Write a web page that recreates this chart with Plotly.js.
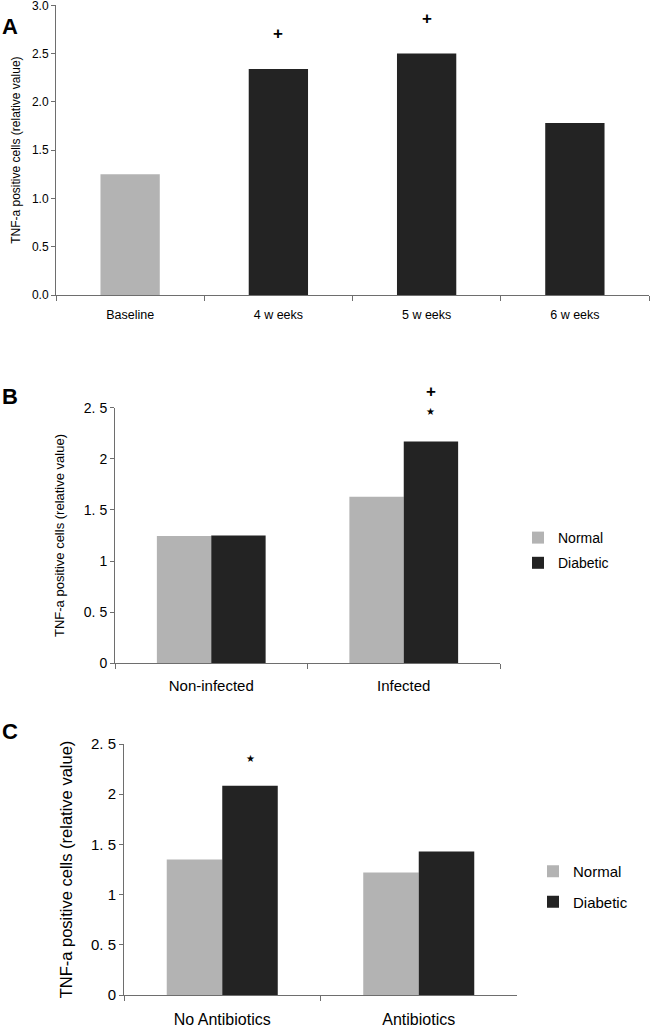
<!DOCTYPE html>
<html>
<head>
<meta charset="utf-8">
<script src="https://cdn.plot.ly/plotly-3.0.1.min.js"></script>
<style>
  body { margin: 0; background: #fff; }
  #chart { width: 650px; height: 1027px; }
</style>
</head>
<body>
<div id="chart"></div>
<script>
// Panel A: time course
const weekCats = ["Baseline", "4 w eeks", "5 w eeks", "6 w eeks"];
const weekVals = [1.25, 2.34, 2.5, 1.78];
const weekColors = ["#b3b3b3", "#232323", "#232323", "#232323"];
const weekMarks = ["", "+", "+", ""];
const weekMarkY = [null, 2.71, 2.86, null];

// Panel B: infection
const infCats = ["Non-infected", "Infected"];
const infNormal = [1.245, 1.63];
const infDiabetic = [1.25, 2.17];
const infPlusY = 2.663;
const infStarY = 2.46;

// Panel C: antibiotics
const abCats = ["No Antibiotics", "Antibiotics"];
const abNormal = [1.35, 1.22];
const abDiabetic = [2.085, 1.43];
const abStarY = 2.357;

const halfTicks = [0, 0.5, 1, 1.5, 2, 2.5];
const halfTickText = ["0", "0. 5", "1", "1. 5", "2", "2. 5"];

const FONT = "Liberation Sans, Arial, sans-serif";
const GREY = "#b3b3b3";
const DARK = "#232323";
const W = 650, H = 1027;

// pixel -> paper helpers for the panel boxes
const px = (v) => v / W;
const py = (v) => 1 - v / H;

const traces = [
  {
    type: "bar", x: weekCats, y: weekVals, width: 0.4,
    marker: { color: weekColors }, showlegend: false,
    xaxis: "x", yaxis: "y",
  },
  {
    type: "bar", name: "Normal", x: infCats, y: infNormal,
    marker: { color: GREY }, xaxis: "x2", yaxis: "y2",
    legend: "legend", legendgroup: "n",
  },
  {
    type: "bar", name: "Diabetic", x: infCats, y: infDiabetic,
    marker: { color: DARK }, xaxis: "x2", yaxis: "y2",
    legend: "legend", legendgroup: "d",
  },
  {
    type: "bar", name: "Normal", x: abCats, y: abNormal,
    marker: { color: GREY }, xaxis: "x3", yaxis: "y3",
    legend: "legend2", legendgroup: "n2",
  },
  {
    type: "bar", name: "Diabetic", x: abCats, y: abDiabetic,
    marker: { color: DARK }, xaxis: "x3", yaxis: "y3",
    legend: "legend2", legendgroup: "d2",
  },
];

const axisLine = { showline: true, linecolor: "#6e6e6e", linewidth: 1, showgrid: false, zeroline: false };

function xAxis(domain, anchor, size, standoff) {
  return Object.assign({}, axisLine, {
    domain: domain, anchor: anchor, type: "category",
    tickson: "boundaries", ticks: "outside", ticklen: 5, tickcolor: "#6e6e6e",
    ticklabelstandoff: standoff,
    tickfont: { family: FONT, size: size, color: "#000" },
  });
}

function yAxis(domain, anchor, opts) {
  return Object.assign({}, axisLine, {
    domain: domain, anchor: anchor, ticks: "outside", ticklen: 4, tickcolor: "#6e6e6e",
    ticklabeloverflow: "allow", fixedrange: true,
  }, opts);
}

const titleText = "TNF-a positive cells (relative value)";
const letterFont = { family: FONT, size: 22, color: "#000" };

const annotations = [
  { text: "<b>A</b>", xref: "paper", yref: "paper", x: 0, xanchor: "left", y: py(12), showarrow: false, font: letterFont },
  { text: "<b>B</b>", xref: "paper", yref: "paper", x: 0, xanchor: "left", y: py(397), showarrow: false, font: letterFont },
  { text: "<b>C</b>", xref: "paper", yref: "paper", x: 0, xanchor: "left", y: py(746), showarrow: false, font: letterFont },
];

const plusFont = { family: FONT, size: 17, color: "#000" };
const starFont = { family: "DejaVu Sans", size: 10, color: "#000" };

weekCats.forEach((c, i) => {
  if (weekMarks[i]) {
    annotations.push({ text: "<b>" + weekMarks[i] + "</b>", xref: "x", yref: "y", x: c, y: weekMarkY[i], showarrow: false, font: plusFont });
  }
});

// marks above the top of the 0-2.5 axes: anchor at the axis top and shift by the axis scale
const pxPerUnitB = (663.3 - 407.7) / 2.5;
const diabOffset = 0.1413; // centre of the diabetic bar inside its category
annotations.push({ text: "<b>+</b>", xref: "x2", yref: "y2", x: 1 + diabOffset, y: 2.5, yshift: (infPlusY - 2.5) * pxPerUnitB, showarrow: false, font: plusFont });
annotations.push({ text: "★", xref: "x2", yref: "y2", x: 1 + diabOffset, y: infStarY, showarrow: false, font: starFont });
annotations.push({ text: "★", xref: "x3", yref: "y3", x: 0 + diabOffset, y: abStarY, showarrow: false, font: starFont });

const layout = {
  width: W, height: H,
  margin: { l: 0, r: 0, t: 0, b: 0 },
  paper_bgcolor: "#fff", plot_bgcolor: "#fff",
  font: { family: FONT, color: "#000" },
  barmode: "group", bargap: 0.435, bargroupgap: 0,
  showlegend: true,

  xaxis: xAxis([px(56), px(649)], "y", 12.5, 8),
  yaxis: yAxis([py(295), py(5.3)], "x", {
    range: [0, 3], dtick: 0.5, tickformat: ".1f",
    tickfont: { family: FONT, size: 12, color: "#000" },
    title: { text: titleText, font: { family: FONT, size: 12, color: "#000" }, standoff: 8 },
  }),

  xaxis2: xAxis([px(115), px(500)], "y2", 15, 9),
  yaxis2: yAxis([py(663.3), py(407.7)], "x2", {
    range: [0, 2.5], tickvals: halfTicks, ticktext: halfTickText,
    tickfont: { family: FONT, size: 14, color: "#000" },
    title: { text: titleText, font: { family: FONT, size: 13, color: "#000" }, standoff: 16 },
  }),

  xaxis3: xAxis([px(124), px(517)], "y3", 16, 10),
  yaxis3: yAxis([py(995), py(744)], "x3", {
    range: [0, 2.5], tickvals: halfTicks, ticktext: halfTickText,
    tickfont: { family: FONT, size: 15, color: "#000" },
    title: { text: titleText, font: { family: FONT, size: 16.5, color: "#000" }, standoff: 14 },
  }),

  legend: {
    x: px(518), y: py(522), xanchor: "left", yanchor: "top",
    traceorder: "grouped", tracegroupgap: 4, itemwidth: 30,
    font: { family: FONT, size: 14, color: "#000" }, bgcolor: "rgba(0,0,0,0)",
  },
  legend2: {
    x: px(533), y: py(855), xanchor: "left", yanchor: "top",
    traceorder: "grouped", tracegroupgap: 8, itemwidth: 30,
    font: { family: FONT, size: 15, color: "#000" }, bgcolor: "rgba(0,0,0,0)",
  },
  annotations: annotations,
};

Plotly.newPlot("chart", traces, layout, { displayModeBar: false, staticPlot: true });
</script>
</body>
</html>
